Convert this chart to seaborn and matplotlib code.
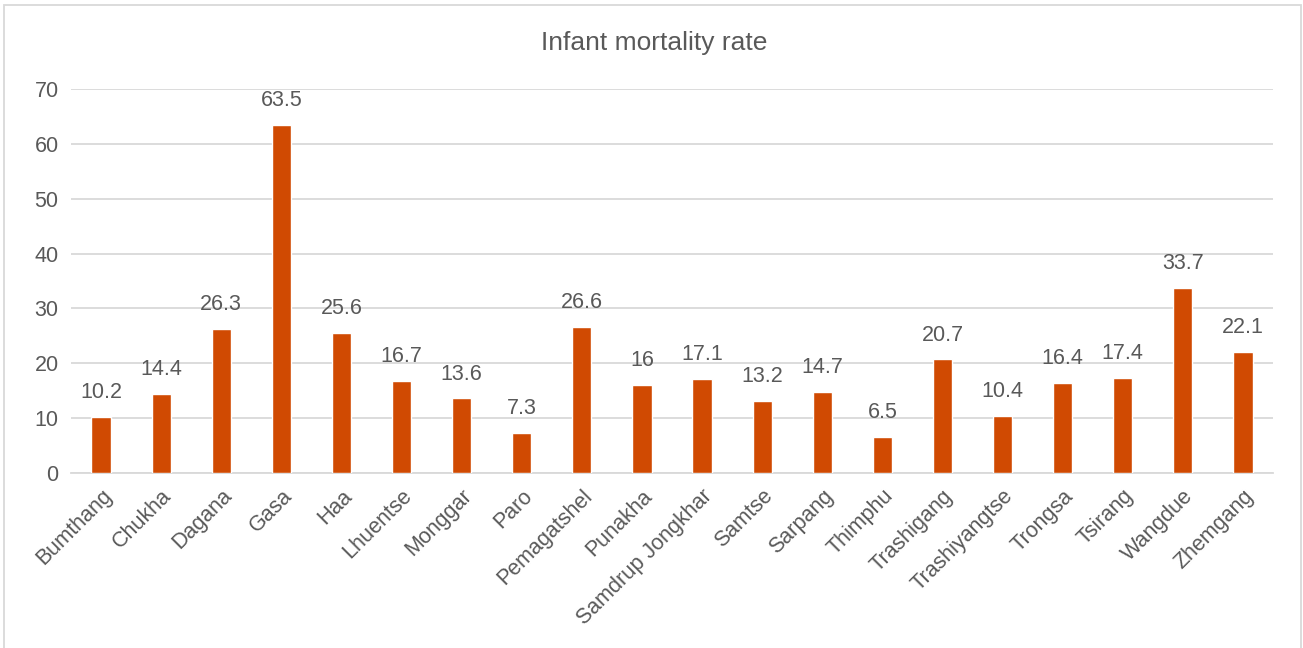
import matplotlib
matplotlib.use("Agg")
import matplotlib.pyplot as plt
import seaborn as sns
import pandas as pd
from matplotlib.patches import Rectangle

districts = ["Bumthang", "Chukha", "Dagana", "Gasa", "Haa", "Lhuentse", "Monggar",
             "Paro", "Pemagatshel", "Punakha", "Samdrup Jongkhar", "Samtse", "Sarpang",
             "Thimphu", "Trashigang", "Trashiyangtse", "Trongsa", "Tsirang", "Wangdue",
             "Zhemgang"]
rates = [10.2, 14.4, 26.3, 63.5, 25.6, 16.7, 13.6, 7.3, 26.6, 16, 17.1, 13.2, 14.7,
         6.5, 20.7, 10.4, 16.4, 17.4, 33.7, 22.1]
labels = ["10.2", "14.4", "26.3", "63.5", "25.6", "16.7", "13.6", "7.3", "26.6", "16",
          "17.1", "13.2", "14.7", "6.5", "20.7", "10.4", "16.4", "17.4", "33.7", "22.1"]

df = pd.DataFrame({"district": districts, "rate": rates})

sns.set_style("white")
plt.rcParams["font.family"] = ["Liberation Sans", "DejaVu Sans"]
txt = "#595959"
grid = "#D9D9D9"

fig = plt.figure(figsize=(13.03, 6.48), dpi=100)
ax = fig.add_axes([71 / 1303, 1 - 473 / 648, 1202 / 1303, 384 / 648])

sns.barplot(data=df, x="district", y="rate", color="#D04A02", saturation=1,
            width=0.32, ax=ax, zorder=3)

ax.set_ylim(0, 70)
ax.set_yticks(range(0, 71, 10))
ax.yaxis.grid(True, color=grid, linewidth=1.3, zorder=0)
ax.set_axisbelow(True)
for s in ["top", "right", "left"]:
    ax.spines[s].set_visible(False)
ax.spines["bottom"].set_color(grid)
ax.spines["bottom"].set_linewidth(1.3)
ax.tick_params(axis="both", length=0, labelsize=15.5, colors=txt, pad=9)
ax.set_xlabel("")
ax.set_ylabel("")
plt.setp(ax.get_xticklabels(), rotation=45, ha="right", rotation_mode="anchor")

for i, (v, lab) in enumerate(zip(rates, labels)):
    ax.annotate(lab, (i, v), xytext=(0, 10), textcoords="offset points",
                ha="center", va="bottom", fontsize=15.5, color=txt)

fig.text(654 / 1303, 1 - 43 / 648, "Infant mortality rate", ha="center", va="center",
         fontsize=19, color=txt)

fig.patches.append(Rectangle((4 / 1303, -0.01), 1297 / 1303, 1 - 5 / 648 + 0.01,
                             transform=fig.transFigure, fill=False,
                             edgecolor=grid, linewidth=1.3))

fig.savefig("out.png", dpi=100)
